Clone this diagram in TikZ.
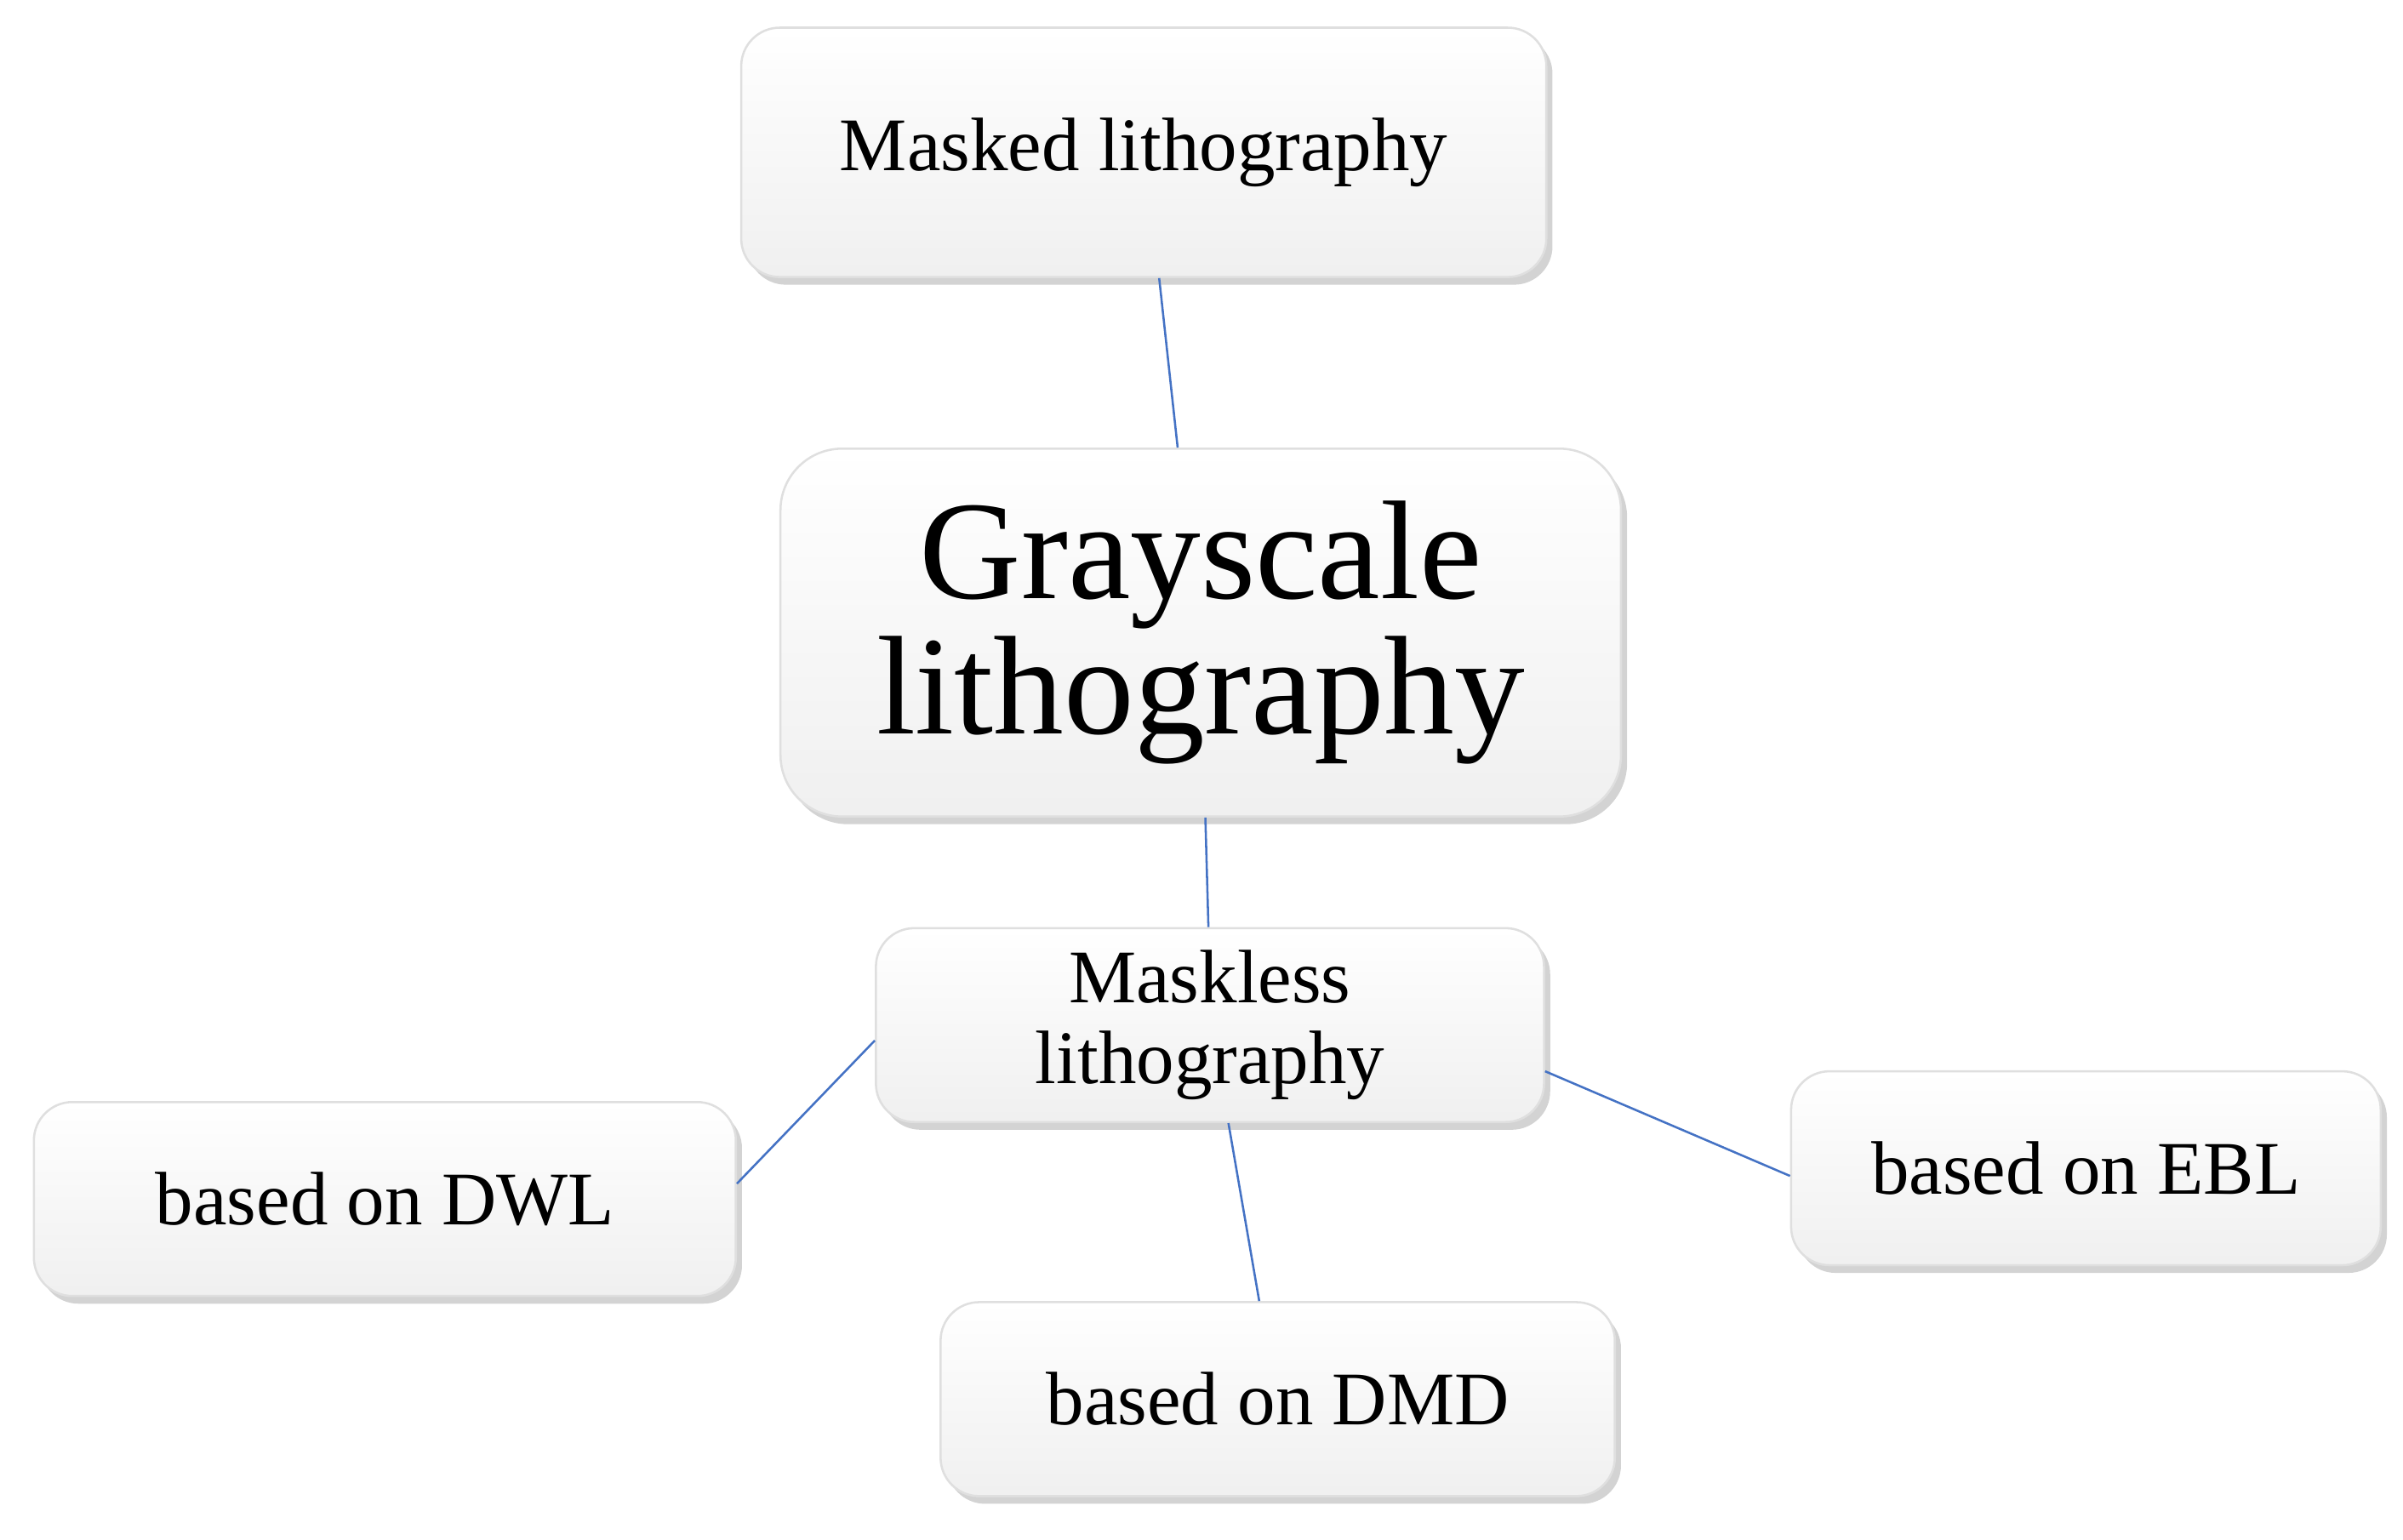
\documentclass[tikz,border=0pt]{standalone}
\usepackage{fontspec}
\setmainfont{Liberation Serif}
\usetikzlibrary{shadows}

\begin{document}
\begin{tikzpicture}[
    topicnode/.style = {shape=rectangle, rounded corners=0.25cm,
    draw=gray!25, align=center, font=\fontsize{14}{16}\selectfont,
    top color=white, bottom color=gray!12,
    drop shadow={shadow xshift=0.04cm, shadow yshift=-0.05cm, opacity=0.35},
    inner sep=0pt},
    link/.style={draw, color={rgb,255:red,68;green,114;blue,196}, thin}]

    \useasboundingbox (0,0) rectangle (15.61,10);

    \node[topicnode, minimum width=5.23cm, minimum height=1.62cm] (masked) at (7.43,9.01) {Masked lithography};
    \node[topicnode, minimum width=5.46cm, minimum height=2.39cm,
      font=\fontsize{26}{25}\selectfont, rounded corners=0.4cm] (gray) at (7.80,5.89) {Grayscale\\lithography};
    \node[topicnode, minimum width=4.34cm, minimum height=1.26cm,
      font=\fontsize{14}{15}\selectfont] (maskless) at (7.86,3.34) {Maskless\\lithography};
    \node[topicnode, minimum width=4.56cm, minimum height=1.26cm] (dwl) at (2.50,2.21) {based on DWL};
    \node[topicnode, minimum width=4.38cm, minimum height=1.26cm] (dmd) at (8.30,0.91) {based on DMD};
    \node[topicnode, minimum width=3.83cm, minimum height=1.26cm] (ebl) at (13.55,2.41) {based on EBL};

  \draw [link] ([xshift=0.1cm]masked.south) -- ([xshift=-0.15cm]gray.north);
  \draw [link] ([xshift=0.03cm]gray.south) -- ([xshift=-0.01cm]maskless.north);
  \draw [link] ([yshift=-0.1cm]maskless.west) -- ([yshift=0.1cm]dwl.east);
  \draw [link] ([xshift=0.12cm]maskless.south) -- ([xshift=-0.12cm]dmd.north);
  \draw [link] ([yshift=-0.3cm]maskless.east) -- ([yshift=-0.05cm]ebl.west);

\end{tikzpicture}
\end{document}
